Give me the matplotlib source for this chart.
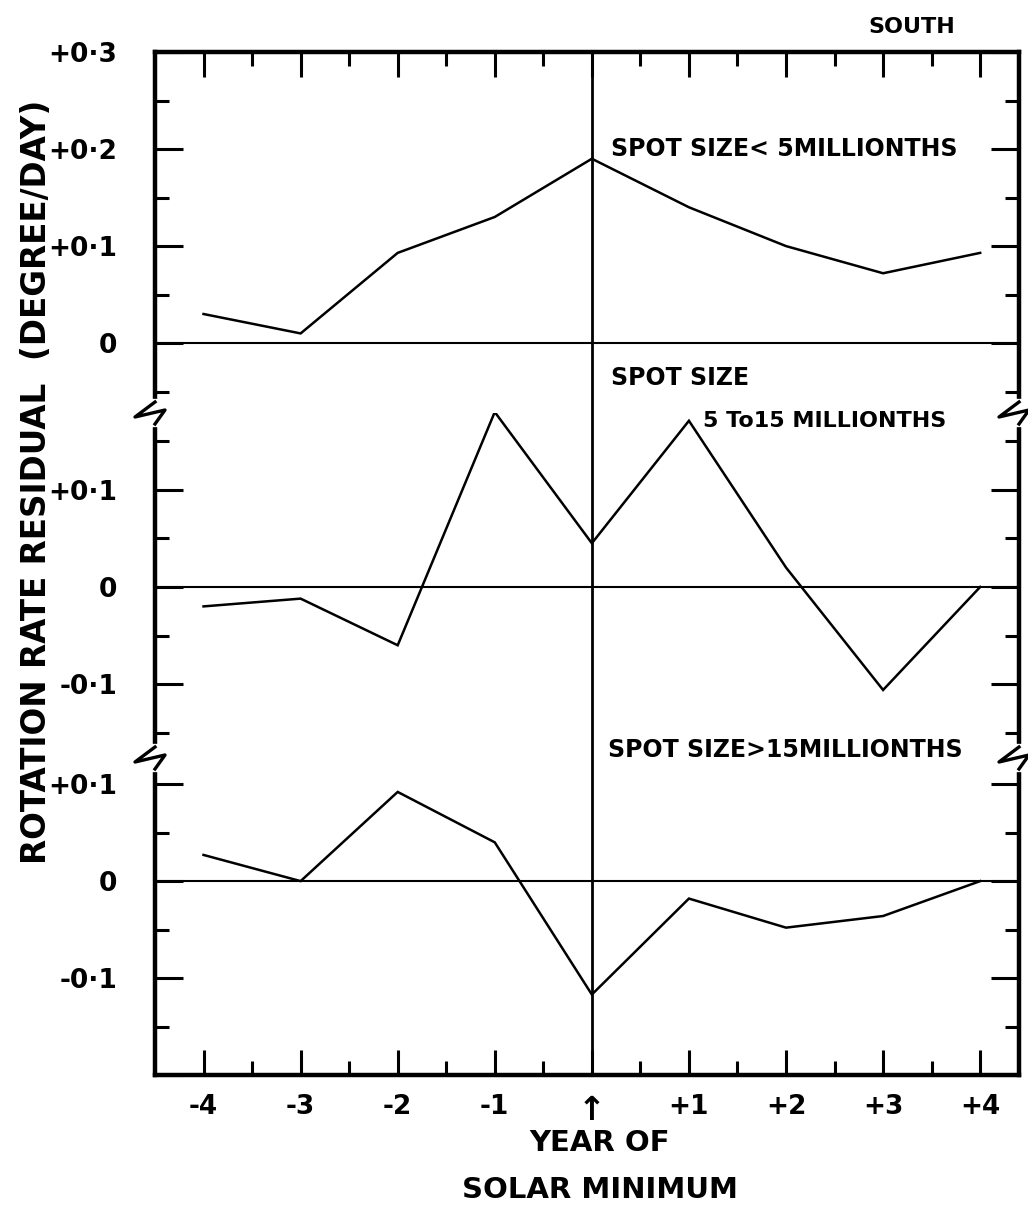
import matplotlib
matplotlib.use("Agg")
import matplotlib.pyplot as plt
from matplotlib.lines import Line2D
from matplotlib.ticker import FixedLocator, FixedFormatter

# values (rotation rate residual, degree/day)
years = [-4, -3, -2, -1, 0, 1, 2, 3, 4]
small_spots = [0.03, 0.01, 0.093, 0.13, 0.19, 0.14, 0.10, 0.072, 0.093]
medium_spots = [-0.02, -0.012, -0.06, 0.18, 0.045, 0.171, 0.02, -0.106, 0.0]
large_spots = [0.027, 0.0, 0.092, 0.04, -0.117, -0.018, -0.048, -0.036, 0.0]

year_labels = ["-4", "-3", "-2", "-1", "\u2191", "+1", "+2", "+3", "+4"]

top_ticks = [0.0, 0.1, 0.2, 0.3]
top_labels = ["0", "+0\u00b71", "+0\u00b72", "+0\u00b73"]
mid_ticks = [-0.1, 0.0, 0.1]
mid_labels = ["-0\u00b71", "0", "+0\u00b71"]
bot_ticks = [-0.2, -0.1, 0.0, 0.1]
bot_labels = ["", "-0\u00b71", "0", "+0\u00b71"]

plt.rcParams["font.family"] = "DejaVu Sans"
plt.rcParams["font.weight"] = "bold"

W, H = 1028, 1210
fig = plt.figure(figsize=(W / 100, H / 100), dpi=100)

left_px, right_px = 155, 1019
edges = [52, 413, 758, 1075]   # panel boundaries in pixels from the top


def px_axes(top, bottom):
    return fig.add_axes([left_px / W, 1 - bottom / H, (right_px - left_px) / W, (bottom - top) / H])


ax_top = px_axes(edges[0], edges[1])
ax_mid = px_axes(edges[1], edges[2])
ax_bot = px_axes(edges[2], edges[3])

ax_top.set_ylim(-0.072, 0.3)
ax_mid.set_ylim(-0.176, 0.179)
ax_bot.set_ylim(-0.2, 0.127)

spine_w = 3.2
line_w = 1.8

panels = [
    (ax_top, small_spots, top_ticks, top_labels, [-0.05, 0.05, 0.15, 0.25]),
    (ax_mid, medium_spots, mid_ticks, mid_labels, [-0.15, -0.05, 0.05, 0.15]),
    (ax_bot, large_spots, bot_ticks, bot_labels, [-0.15, -0.05, 0.05]),
]

for ax, vals, ticks, labels, minors in panels:
    ax.set_xlim(-4.5, 4.4)
    ax.plot(years, vals, color="black", lw=line_w, solid_joinstyle="miter")
    ax.axhline(0, color="black", lw=1.5)
    ax.axvline(0, color="black", lw=2.0)
    ax.yaxis.set_major_locator(FixedLocator(ticks))
    ax.yaxis.set_major_formatter(FixedFormatter(labels))
    ax.yaxis.set_minor_locator(FixedLocator(minors))
    ax.tick_params(axis="y", which="both", direction="in", left=True, right=True,
                   width=2.2, labelsize=19, pad=27)
    ax.tick_params(axis="y", which="major", length=20)
    ax.tick_params(axis="y", which="minor", length=10)
    for side in ("left", "right"):
        ax.spines[side].set_linewidth(spine_w)
    ax.spines["top"].set_visible(False)
    ax.spines["bottom"].set_visible(False)
    ax.tick_params(axis="x", which="both", top=False, bottom=False,
                   labeltop=False, labelbottom=False)
    ax.set_facecolor("none")

# top frame with year ticks
ax_top.spines["top"].set_visible(True)
ax_top.spines["top"].set_linewidth(spine_w)
ax_top.set_xticks(years)
ax_top.set_xticks([y + 0.5 for y in years[:-1]], minor=True)
ax_top.tick_params(axis="x", which="both", top=True, direction="in", width=2.2)
ax_top.tick_params(axis="x", which="major", length=18)
ax_top.tick_params(axis="x", which="minor", length=10)

# bottom frame with year labels
ax_bot.spines["bottom"].set_visible(True)
ax_bot.spines["bottom"].set_linewidth(spine_w)
ax_bot.set_xticks(years)
ax_bot.set_xticklabels(year_labels)
ax_bot.set_xticks([y + 0.5 for y in years[:-1]], minor=True)
ax_bot.tick_params(axis="x", which="both", bottom=True, labelbottom=True,
                   direction="in", width=2.2, labelsize=19, pad=14)
ax_bot.tick_params(axis="x", which="major", length=18)
ax_bot.tick_params(axis="x", which="minor", length=10)
for lab in ax_bot.get_xticklabels():
    if lab.get_text() == "\u2191":
        lab.set_fontsize(24)

# axis break marks on both sides
zig = [(0, -11), (-20, 4), (10, -3), (0, 11)]
for bx in (left_px, right_px):
    for by in edges[1:3]:
        fig.add_artist(Line2D([bx / W, bx / W], [1 - (by - 10) / H, 1 - (by + 10) / H],
                              transform=fig.transFigure, color="white", lw=6, zorder=5))
        fig.add_artist(Line2D([(bx + dx) / W for dx, dy in zig],
                              [1 - (by + dy) / H for dx, dy in zig],
                              transform=fig.transFigure, color="black", lw=2.4, zorder=6))

# labels and annotations
ax_top.text(0.2, 0.2, "SPOT SIZE< 5MILLIONTHS", fontsize=17, va="center", ha="left")
ax_top.text(0.2, -0.036, "SPOT SIZE", fontsize=17, va="center", ha="left")
ax_mid.text(1.15, 0.171, "5 To15 MILLIONTHS", fontsize=16, va="center", ha="left")
ax_mid.text(0.17, -0.168, "SPOT SIZE>15MILLIONTHS", fontsize=17, va="center", ha="left",
            clip_on=False)

fig.text(912 / W, 1 - 27 / H, "SOUTH", fontsize=16, ha="center", va="center")
fig.text(37 / W, 1 - 482 / H, "ROTATION RATE RESIDUAL  (DEGREE/DAY)", fontsize=23.5,
         rotation=90, ha="center", va="center")
fig.text(600 / W, 1 - 1143 / H, "YEAR OF", fontsize=21, ha="center", va="center")
fig.text(600 / W, 1 - 1190 / H, "SOLAR MINIMUM", fontsize=21, ha="center", va="center")

fig.savefig("out.png", dpi=100)
